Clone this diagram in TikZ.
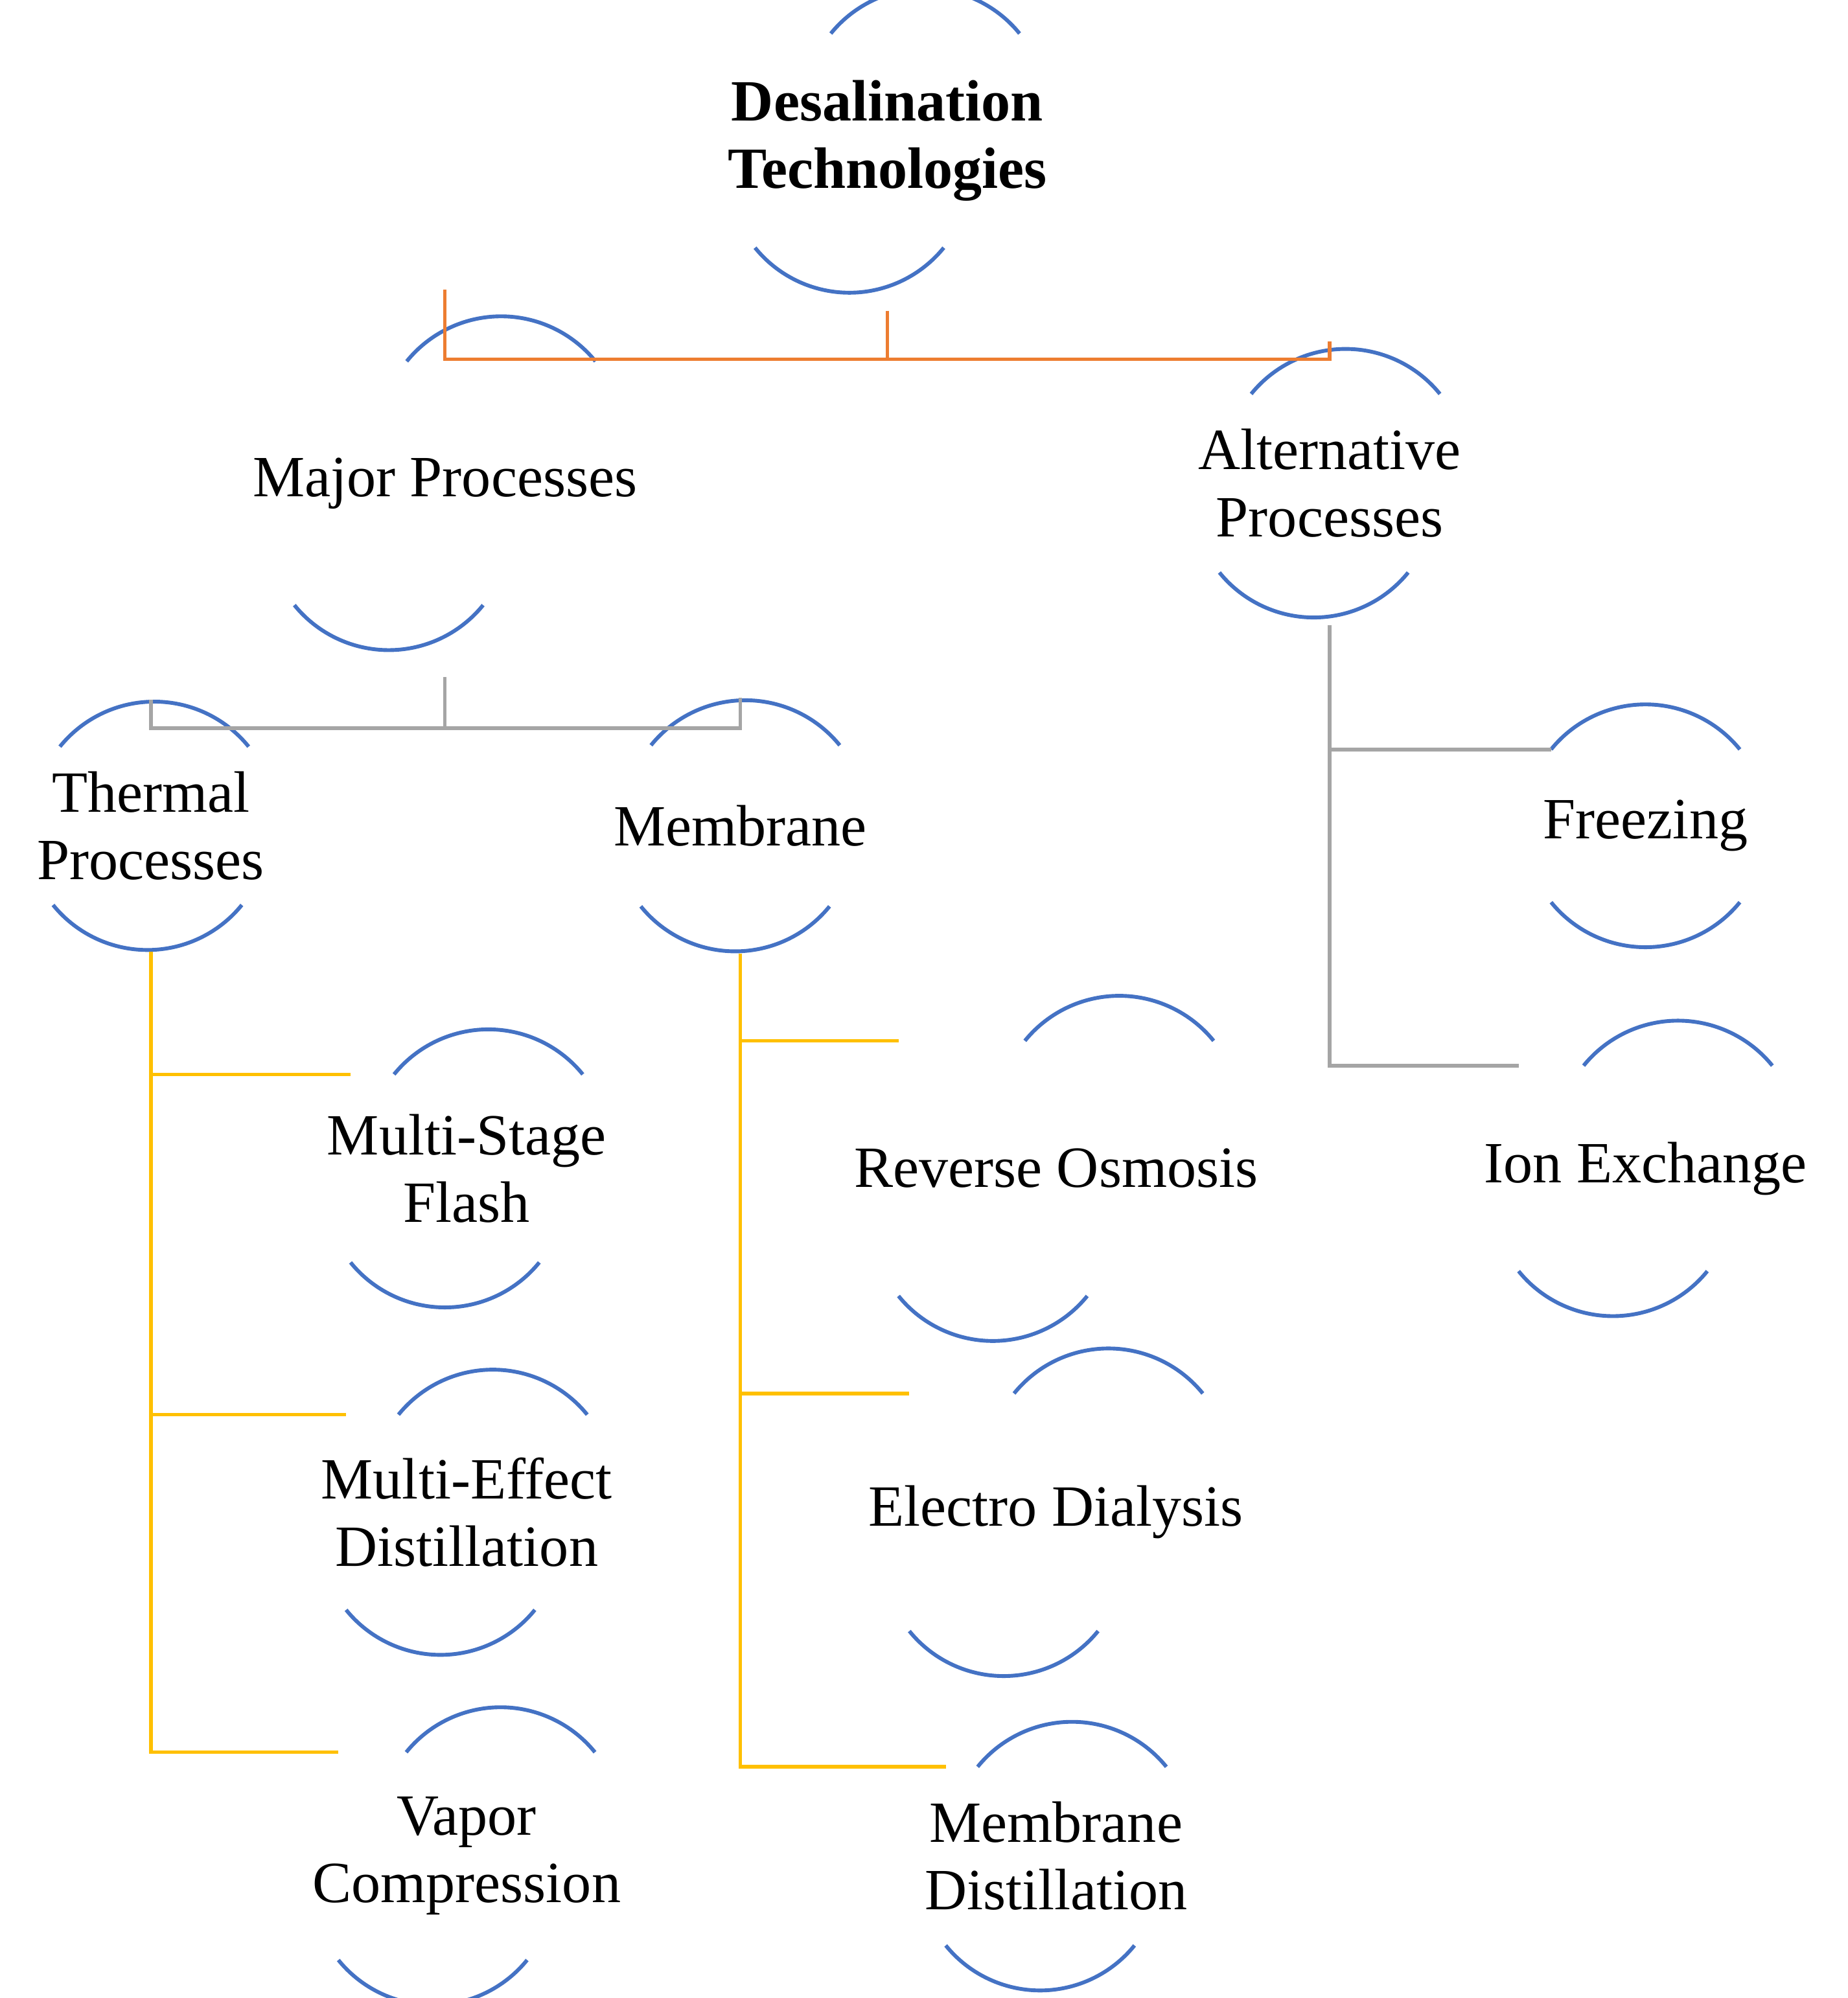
\documentclass[tikz,border=0pt]{standalone}
\usepackage{fontspec}
\setmainfont{Liberation Serif}
\definecolor{bl}{RGB}{68,114,196}
\definecolor{orl}{RGB}{237,125,49}
\definecolor{grl}{RGB}{165,165,165}
\definecolor{yel}{RGB}{255,192,0}
\begin{document}
\begin{tikzpicture}[x=0.02cm,y=-0.02cm,
  tn/.style={circle,minimum size=3.8cm,inner sep=0pt,outer sep=0pt,align=center,font=\fontsize{26}{30}\selectfont},
  or/.style={draw=orl,line width=1.6pt},
  gr/.style={draw=grl,line width=1.6pt},
  ye/.style={draw=yel,line width=1.6pt}]
\useasboundingbox (0,0) rectangle (1445,1563);
\newcommand\mynode[3]{\node[tn] (#1) at (#2) {#3};
  \draw[bl,line width=1.7pt] (#1.39) arc[start angle=39,end angle=141,radius=1.9cm];
  \draw[bl,line width=1.7pt] (#1.219) arc[start angle=219,end angle=321,radius=1.9cm];}
\mynode{root}{694,110}{\textbf{Desalination}\\\textbf{Technologies}}
\mynode{major}{348,378}{Major Processes}
\mynode{alt}{1040,378}{Alternative\\Processes}
\mynode{therm}{118,646}{Thermal\\Processes}
\mynode{memb}{579,646}{Membrane}
\mynode{freez}{1287,646}{Freezing}
\mynode{ion}{1287,914}{Ion Exchange}
\mynode{msf}{365,914}{Multi-Stage\\Flash}
\mynode{med}{365,1183}{Multi-Effect\\Distillation}
\mynode{vc}{365,1452}{Vapor\\Compression}
\mynode{ro}{826,914}{Reverse Osmosis}
\mynode{ed}{826,1183}{Electro Dialysis}
\mynode{md}{826,1452}{Membrane\\Distillation}
\draw[or] (root.south) -- ++(0,38) -| (major.north);
\draw[or] (root.south) -- ++(0,38) -| (alt.north);
\draw[gr] (major.south) -- ++(0,40) -| (therm.north);
\draw[gr] (major.south) -- ++(0,40) -| (memb.north);
\draw[gr] (alt.south) |- (ion.141);
\draw[gr] (alt.south |- freez.141) -- (freez.141);
\draw[ye] (therm.south) |- (vc.141);
\draw[ye] (therm.south |- msf.141) -- (msf.141);
\draw[ye] (therm.south |- med.141) -- (med.141);
\draw[ye] (memb.south) |- (md.141);
\draw[ye] (memb.south |- ro.141) -- (ro.141);
\draw[ye] (memb.south |- ed.141) -- (ed.141);
\end{tikzpicture}
\end{document}
